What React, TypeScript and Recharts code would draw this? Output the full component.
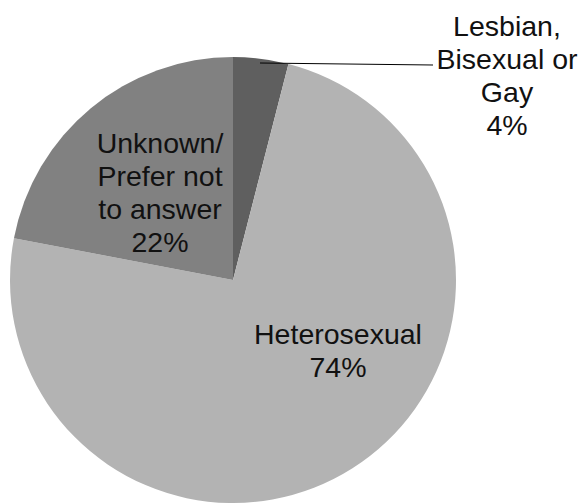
import React from "react";
import { PieChart, Pie, Cell } from "recharts";

const categories = ["Lesbian, Bisexual or Gay", "Heterosexual", "Unknown/ Prefer not to answer"];
const values = [4, 74, 22];
const labelLines = [
  ["Lesbian,", "Bisexual or", "Gay"],
  ["Heterosexual"],
  ["Unknown/", "Prefer not", "to answer"],
];
const colors = ["#5f5f5f", "#b3b3b3", "#818181"];

const data = categories.map((name, i) => ({ name, value: values[i] }));
const total = values.reduce((a, b) => a + b, 0);

// label anchor offsets relative to pie center (x center of text, first baseline)
const labelOffsets = [
  { dx: 274, dy: -244 },
  { dx: 105, dy: 64 },
  { dx: -73, dy: -127 },
];
const LINE_H = 33;
const FONT = "'Liberation Sans', Arial, sans-serif";

const renderLabel = (props: any) => {
  const { cx, cy, index, outerRadius } = props;
  const off = labelOffsets[index];
  const x = cx + off.dx;
  const y = cy + off.dy;
  const lines = [...labelLines[index], `${Math.round((values[index] / total) * 100)}%`];
  let leader = null;
  if (index === 0) {
    const sx = cx + 27;
    const sy = cy - outerRadius + 6;
    leader = <line x1={sx} y1={sy} x2={cx + 200} y2={cy - outerRadius + 8} stroke="#000" strokeWidth={1} />;
  }
  return (
    <g key={`lbl-${index}`}>
      {leader}
      <text x={x} y={y} textAnchor="middle" fill="#111" fontSize={28.5} fontFamily={FONT}>
        {lines.map((t, i) => (
          <tspan key={i} x={x} dy={i === 0 ? 0 : LINE_H}>
            {t}
          </tspan>
        ))}
      </text>
    </g>
  );
};

export default function App() {
  return (
    <div style={{ position: "absolute", left: 0, top: 0, background: "#fff" }}>
      <PieChart width={584} height={503} margin={{ top: 0, right: 0, bottom: 0, left: 0 }}>
        <Pie
          data={data}
          dataKey="value"
          nameKey="name"
          cx={233}
          cy={280}
          outerRadius={223}
          startAngle={90}
          endAngle={-270}
          stroke="none"
          label={renderLabel}
          labelLine={false}
          isAnimationActive={false}
        >
          {data.map((d, i) => (
            <Cell key={d.name} fill={colors[i]} />
          ))}
        </Pie>
      </PieChart>
    </div>
  );
}
